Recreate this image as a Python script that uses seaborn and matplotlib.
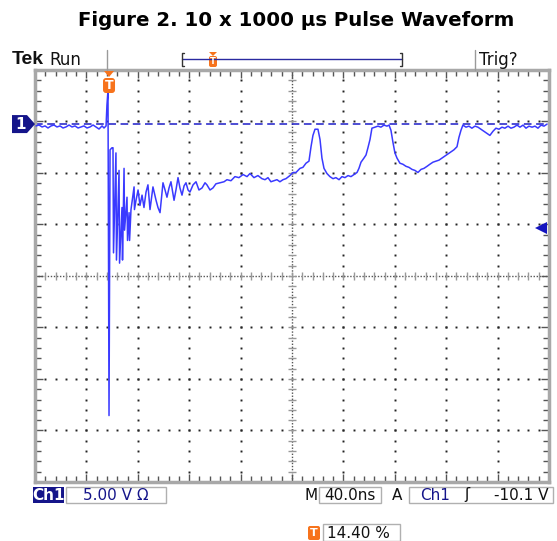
import matplotlib
matplotlib.use("Agg")
import matplotlib.pyplot as plt
from matplotlib.transforms import IdentityTransform
from matplotlib.patches import Polygon, Rectangle, FancyBboxPatch
from matplotlib.lines import Line2D
import numpy as np
import pandas as pd
import seaborn as sns

# ---------------- data (time relative to trigger in ns, volts) ----------------
time_ns = [-56.8, -54.5, -52.1, -49.8, -47.5, -45.1, -42.8, -40.5, -38.1, -35.8,
           -33.5, -31.1, -28.8, -26.5, -24.1, -21.8, -19.5, -17.1, -14.8, -12.4,
           -10.1, -7.8, -5.4, -3.9, -2.3,
           -1.6, -0.8, 0.0, 0.8, 2.3,
           3.1, 3.5, 5.4, 5.8, 7.8, 8.2, 10.1, 10.5, 11.7, 12.1, 14.0, 14.4, 15.6, 16.0,
           17.1, 19.5, 19.8, 21.0, 22.6, 24.1, 25.7, 27.2, 28.8, 30.3, 31.9, 34.2, 36.6,
           38.1, 39.7, 42.0, 43.6, 45.1, 46.7, 48.2, 50.6, 52.1, 53.7, 55.2, 56.8, 58.4,
           59.9, 61.5, 63.0, 65.4, 67.7, 70.0, 72.4, 74.7, 76.2, 78.6, 80.9, 83.2, 86.4,
           89.5, 91.8, 94.9, 98.0, 101.1, 104.3, 107.4, 109.7, 112.8, 115.9, 119.0, 121.4,
           123.7, 126.0, 128.4, 130.7, 133.0, 135.4, 137.7, 140.8, 143.2, 145.5, 148.6,
           150.9, 153.3, 155.6, 157.2, 158.7, 160.3, 162.6, 164.2, 165.7, 167.3, 169.6,
           171.9, 174.3, 176.6, 179.0, 181.3, 183.6, 186.0, 188.3, 190.6, 193.0, 194.5,
           196.1, 198.4, 200.0, 201.5, 203.1, 204.6, 207.0, 209.3, 211.6, 214.0, 216.3,
           217.9, 219.4, 221.0, 222.5, 224.1, 226.4, 228.7, 231.1, 233.4, 235.8, 238.1,
           240.4, 242.8, 245.1, 247.5, 249.7, 252.1, 254.4, 256.8, 259.1, 261.4, 263.8,
           266.1, 268.4, 270.8, 272.3, 273.9, 275.4, 277.8, 280.1, 282.4, 284.8, 287.1,
           289.4, 291.8, 294.1, 296.4, 298.8, 301.1, 303.5, 305.8, 308.1, 310.5, 312.8,
           315.1, 317.5, 319.8, 322.2, 324.5, 326.8, 329.2, 331.5, 333.8, 336.2, 338.5,
           340.9]
volts = [-0.18, -0.09, -0.28, -0.18, -0.38, -0.18, -0.09, -0.28, -0.18, -0.38,
         -0.28, -0.09, -0.28, -0.18, -0.38, -0.28, -0.18, -0.38, -0.28, -0.09,
         -0.28, -0.48, -0.18, -0.38, -0.18,
         1.85, 3.3, -28.3, -2.5, -2.3,
         -2.3, -12.5, -2.8, -13.2, -4.5, -13.5, -8.1, -13.2, -4.3, -10.3, -7.1, -11.3, -8.6, -11.3,
         -8.3, -6.1, -8.3, -7.4, -6.4, -7.9, -6.9, -8.1, -6.6, -5.9, -8.3, -6.1, -7.4,
         -8.1, -8.6, -5.7, -6.4, -7.1, -6.2, -5.6, -7.4, -6.4, -5.2, -6.2, -6.9, -6.0,
         -5.7, -6.4, -6.6, -5.9, -5.6, -6.4, -6.2, -5.7, -5.9, -6.4, -6.2, -5.8, -5.7,
         -5.6, -5.4, -5.5, -5.1, -5.2, -4.9, -5.1, -4.8, -5.2, -5.0, -5.3, -5.4,
         -5.2, -5.6, -5.5, -5.4, -5.6, -5.4, -5.3, -5.0, -4.7, -4.7, -4.3,
         -4.2, -3.8, -3.6, -2.2, -1.1, -0.5, -0.5, -1.5, -3.3, -4.3, -4.8,
         -5.1, -5.3, -5.2, -5.4, -5.1, -5.2, -5.0, -5.1, -4.9, -4.7, -4.3,
         -3.7, -3.3, -3.0, -2.3, -1.5, -0.4, -0.3, -0.2, -0.3, -0.1, -0.2,
         -0.1, -0.6, -1.8, -2.8, -3.3, -3.8, -3.9, -4.1, -4.2, -4.4, -4.5,
         -4.7, -4.4, -4.3, -4.1, -3.9, -3.7, -3.6, -3.5, -3.3, -3.1, -2.9,
         -2.7, -2.5, -2.2, -1.3, -0.6, -0.1, -0.3, -0.2, -0.4, -0.2, -0.3,
         -0.5, -0.7, -0.9, -1.1, -0.7, -0.4, -0.5, -0.3, -0.4, -0.2, -0.4,
         -0.3, -0.1, -0.3, -0.1, -0.4, -0.2, -0.3, -0.2, -0.4, -0.1, -0.2,
         0.0]

title = "Figure 2. 10 x 1000 \u03bcs Pulse Waveform"
ch_label = "Ch1"
scale_label = "5.00 V \u03a9"
timebase_label = "40.0ns"
trig_source = "Ch1"
trig_level_label = "-10.1 V"
trig_pos_label = "14.40 %"

NS_PER_DIV = 40.0
V_PER_DIV = 5.0
TRIG_POS = 0.144
TRIG_LEVEL = -10.1
GROUND_DIV = 2.95

# ---------------- figure ----------------
sns.set_style("white")
plt.rcParams['font.family'] = ['DejaVu Sans']

W, H = 557, 541
L, R, TOP, BOT = 35, 549, 70, 482
fig = plt.figure(figsize=(W / 100, H / 100), dpi=100)
ax = fig.add_axes([L / W, 1 - BOT / H, (R - L) / W, (BOT - TOP) / H])

x0 = -TRIG_POS * 10 * NS_PER_DIV
x1 = x0 + 10 * NS_PER_DIV
yc = -GROUND_DIV * V_PER_DIV
y0 = yc - 4 * V_PER_DIV
y1 = yc + 4 * V_PER_DIV

TI = IdentityTransform()


def txt(px, py, s, **kw):
    fig.text(px, H - py, s, transform=TI, **kw)


def line(xs, ys, **kw):
    fig.add_artist(Line2D(xs, [H - y for y in ys], transform=TI, **kw))


# graticule dots
sub_x = x0 + NS_PER_DIV / 5 * np.arange(51)
sub_y = y0 + V_PER_DIV / 5 * np.arange(41)
for k in range(1, 10):
    if k == 5:
        continue
    xm = x0 + k * NS_PER_DIV
    ax.plot(np.full_like(sub_y, xm), sub_y, ls='none', marker='s', ms=1.4, mew=0, color='#222222', zorder=1)
for k in range(1, 8):
    if k == 4:
        continue
    ym = y0 + k * V_PER_DIV
    ax.plot(sub_x, np.full_like(sub_x, ym), ls='none', marker='s', ms=1.4, mew=0, color='#222222', zorder=1)

# centre cross with ticks
xcen = x0 + 5 * NS_PER_DIV
ax.axhline(yc, color='#555555', lw=1, ls=(0, (1, 1.2)), zorder=1)
ax.axvline(xcen, color='#555555', lw=1, ls=(0, (1, 1.2)), zorder=1)
ax.plot(sub_x, np.full_like(sub_x, yc), ls='none', marker='|', ms=6, mew=1, color='#999999', zorder=1)
ax.plot(np.full_like(sub_y, xcen), sub_y, ls='none', marker='_', ms=6, mew=1, color='#999999', zorder=1)

# ground reference dashed line
ax.plot([x0, x1], [0, 0], color='#1c1cc8', lw=1.1, ls=(0, (5, 3)), zorder=2)

# waveform
sns.lineplot(x=time_ns, y=volts, sort=False, estimator=None, color='#3a3aff', lw=1.1, ax=ax, zorder=3)

ax.set_xlim(x0, x1)
ax.set_ylim(y0, y1)
ax.set_xlabel('')
ax.set_ylabel('')
ax.set_xticks(x0 + NS_PER_DIV * np.arange(11))
ax.set_xticks(sub_x, minor=True)
ax.set_yticks(y0 + V_PER_DIV * np.arange(9))
ax.set_yticks(sub_y, minor=True)
ax.tick_params(which='both', direction='in', top=True, right=True, bottom=True, left=True,
               labelbottom=False, labelleft=False, color='#555555', width=1)
ax.tick_params(which='major', length=6)
ax.tick_params(which='minor', length=4)
for sp in ax.spines.values():
    sp.set_color('#a8a8a8')
    sp.set_linewidth(2.5)

# trigger level marker (right)
ax.plot([x1 - 0.016 * (x1 - x0)], [TRIG_LEVEL], marker='<', ms=8, color='#1515c0', mew=0, clip_on=False, zorder=5)

# trigger position marker (top)
ORANGE = '#f7731c'
ptx = L + (0 - x0) / (x1 - x0) * (R - L)
fig.add_artist(Polygon([(ptx - 5, H - 71), (ptx + 5, H - 71), (ptx, H - 77)], closed=True,
                       facecolor=ORANGE, edgecolor='none', transform=TI))
fig.add_artist(FancyBboxPatch((ptx - 6, H - 93), 12, 15, boxstyle='round,pad=0,rounding_size=3',
                              facecolor=ORANGE, edgecolor='none', transform=TI))
txt(ptx, 85.5, 'T', color='white', fontsize=9, fontweight='bold', ha='center', va='center')

# ground marker "1" (left)
pgy = BOT - (0 - y0) / (y1 - y0) * (BOT - TOP)
fig.add_artist(Polygon([(12, H - pgy + 9), (27, H - pgy + 9), (35, H - pgy), (27, H - pgy - 9), (12, H - pgy - 9)],
                       closed=True, facecolor='#15158a', edgecolor='none', transform=TI))
txt(20.5, pgy, '1', color='white', fontsize=11, fontweight='bold', ha='center', va='center')

# header
txt(12, 60, 'Tek', fontsize=14, fontweight='bold', family=['Liberation Sans'], ha='left', va='center', color='#111111')
txt(49, 60, 'Run', fontsize=12, ha='left', va='center', color='#111111')
line([107, 107], [50, 70], color='#9a9a9a', lw=1)
line([475, 475], [50, 70], color='#9a9a9a', lw=1)
txt(479, 60, 'Trig?', fontsize=12, ha='left', va='center', color='#111111')
# record bracket
line([182, 402], [59, 59], color='#2a2aa0', lw=1)
line([184, 182, 182, 184], [53, 53, 66, 66], color='#333333', lw=1)
line([400, 402, 402, 400], [53, 53, 66, 66], color='#333333', lw=1)
fig.add_artist(Polygon([(209, H - 52), (217, H - 52), (213, H - 56)], closed=True,
                       facecolor=ORANGE, edgecolor='none', transform=TI))
fig.add_artist(FancyBboxPatch((209, H - 67), 8, 11, boxstyle='round,pad=0,rounding_size=2',
                              facecolor=ORANGE, edgecolor='none', transform=TI))
txt(213, 61.5, 'T', color='white', fontsize=6, fontweight='bold', ha='center', va='center')

# title
txt(296.5, 20, title, fontsize=14.2, fontweight='bold', family=['DejaVu Sans'], ha='center', va='center', color='black')

# status bar
fig.add_artist(Rectangle((33, H - 503), 31, 16, facecolor='#15158a', edgecolor='none', transform=TI))
txt(48.5, 495, ch_label, color='white', fontsize=11, fontweight='bold', ha='center', va='center')
fig.add_artist(Rectangle((66, H - 503), 100, 16, facecolor='white', edgecolor='#b0b0b0', lw=1, transform=TI))
txt(116, 495, scale_label, color='#15158a', fontsize=11, ha='center', va='center')
txt(311, 495, 'M', color='#111111', fontsize=11, ha='center', va='center')
fig.add_artist(Rectangle((319, H - 503), 62, 16, facecolor='white', edgecolor='#b0b0b0', lw=1, transform=TI))
txt(350, 495, timebase_label, color='#111111', fontsize=11, ha='center', va='center')
txt(397, 495, 'A', color='#111111', fontsize=11, ha='center', va='center')
fig.add_artist(Rectangle((409, H - 503), 144, 16, facecolor='white', edgecolor='#b0b0b0', lw=1, transform=TI))
txt(420, 495, trig_source, color='#15158a', fontsize=11, ha='left', va='center')
txt(467, 495, '\u0283', color='#111111', fontsize=11, ha='center', va='center')
txt(549, 495, trig_level_label, color='#111111', fontsize=11, ha='right', va='center')

# trigger position readout
fig.add_artist(FancyBboxPatch((308, H - 540), 12, 14, boxstyle='round,pad=0,rounding_size=2',
                              facecolor=ORANGE, edgecolor='none', transform=TI))
txt(314, 533, 'T', color='white', fontsize=8, fontweight='bold', ha='center', va='center')
fig.add_artist(Rectangle((323, H - 541), 77, 17, facecolor='white', edgecolor='#b0b0b0', lw=1, transform=TI))
txt(327, 533, trig_pos_label, color='#111111', fontsize=11, ha='left', va='center')

fig.savefig('out.png', dpi=100)
